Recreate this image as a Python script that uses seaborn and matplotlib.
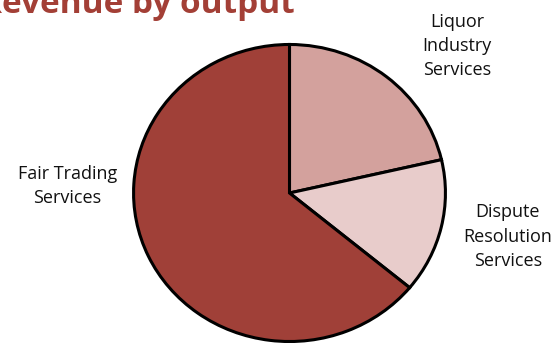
import matplotlib
matplotlib.use("Agg")
import matplotlib.pyplot as plt
import seaborn as sns

# Revenue shares by output (percent)
outputs = ["Liquor\nIndustry\nServices", "Dispute\nResolution\nServices", "Fair Trading\nServices"]
shares = [21.4, 14.6, 64.0]
colours = ["#D3A19D", "#E8CCCB", "#A04038"]

sns.set_theme(style="white")
plt.rcParams["font.family"] = ["Open Sans", "DejaVu Sans"]

fig = plt.figure(figsize=(5.59, 3.45), dpi=100)
ax = fig.add_axes([132 / 559, 2 / 345, 315 / 559, 300 / 345])

wedges, _ = ax.pie(
    shares,
    colors=colours,
    startangle=90,
    counterclock=False,
    radius=1.0,
    wedgeprops=dict(edgecolor="black", linewidth=2.2),
)
ax.set_aspect("auto")
ax.set_xlim(-1.01, 1.01)
ax.set_ylim(-1.01, 1.01)
ax.axis("off")

# Labels placed outside the pie
label_pos = [(1.076, 0.99), (1.40, -0.293), (-1.425, 0.047)]
for text, (x, y) in zip(outputs, label_pos):
    ax.text(x, y, text, ha="center", va="center", fontsize=13,
            color="#111111", linespacing=1.45, clip_on=False)

fig.text(-0.036, 0.962, "Revenue by output", ha="left", va="baseline",
         fontsize=24, fontweight="bold", color="#A33F36")

fig.savefig("out.png", dpi=100)
